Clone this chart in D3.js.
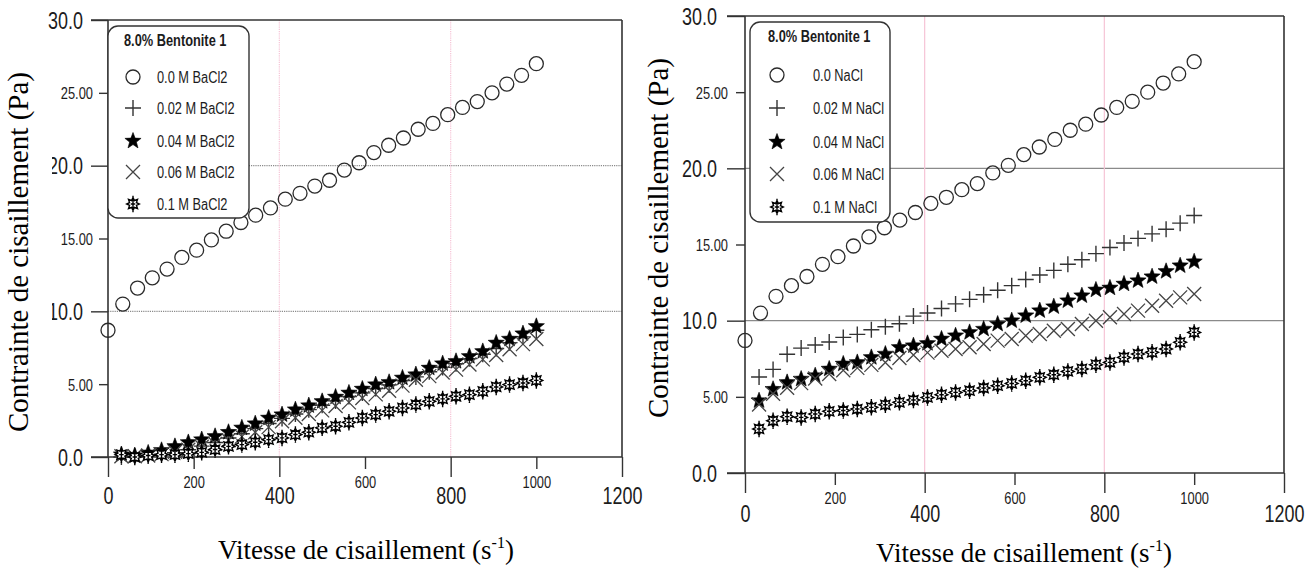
<!DOCTYPE html>
<html>
<head>
<meta charset="utf-8">
<script src="https://cdn.jsdelivr.net/npm/d3@7"></script>
<style>
  body { margin: 0; background: #fff; }
  svg { display: block; }
  .num { font-family: "Liberation Sans", Arial, sans-serif; fill: #1c1c1c; }
  .ttl { font-family: "Liberation Serif", "Times New Roman", serif; fill: #000; }
</style>
</head>
<body>
<svg id="fig" width="1316" height="572"></svg>
<script>
// shear rates (s-1): reference series has 30 steps, salt series 32 steps
var rateRef = [0, 34.5, 69, 103.4, 137.9, 172.4, 206.9, 241.4, 275.9, 310.3, 344.8, 379.3, 413.8, 448.3, 482.8,
  517.2, 551.7, 586.2, 620.7, 655.2, 689.7, 724.1, 758.6, 793.1, 827.6, 862.1, 896.6, 931, 965.5, 1000];
var rateSalt = [31.3, 62.5, 93.8, 125, 156.3, 187.5, 218.8, 250, 281.3, 312.5, 343.8, 375, 406.3, 437.5, 468.8, 500,
  531.3, 562.5, 593.8, 625, 656.3, 687.5, 718.8, 750, 781.3, 812.5, 843.8, 875, 906.3, 937.5, 968.8, 1000];

// shear stress (Pa), 8.0% bentonite without salt
var ref0 = [8.7, 10.5, 11.6, 12.3, 12.9, 13.7, 14.2, 14.9, 15.5, 16.1, 16.6, 17.1, 17.7, 18.1, 18.6, 19.0, 19.7,
  20.2, 20.9, 21.4, 21.9, 22.5, 22.9, 23.5, 24.0, 24.4, 25.0, 25.6, 26.2, 27.0];

// BaCl2
var ba002 = [0.0, 0.05, 0.1, 0.2, 0.3, 0.5, 0.75, 1.0, 1.3, 1.6, 1.95, 2.3, 2.65, 2.95, 3.25, 3.55, 3.85, 4.15,
  4.4, 4.7, 4.95, 5.25, 5.5, 5.85, 6.15, 6.4, 6.75, 7.05, 7.45, 7.85, 8.25, 8.7];
var ba004 = [0.16, 0.1, 0.28, 0.46, 0.73, 1.0, 1.2, 1.42, 1.7, 2.0, 2.29, 2.68, 2.91, 3.25, 3.53, 3.82, 4.12, 4.4,
  4.67, 4.97, 5.13, 5.43, 5.66, 6.11, 6.41, 6.57, 6.91, 7.25, 7.83, 8.1, 8.47, 8.97];
var ba006 = [0.05, 0.05, 0.1, 0.2, 0.35, 0.5, 0.7, 0.9, 1.15, 1.4, 1.7, 2.05, 2.45, 2.7, 2.95, 3.2, 3.5, 3.75,
  4.05, 4.3, 4.55, 4.9, 5.3, 5.55, 5.8, 6.0, 6.35, 6.7, 7.0, 7.4, 7.75, 8.1];
var ba01 = [0.16, 0.0, 0.1, 0.16, 0.16, 0.23, 0.32, 0.51, 0.73, 0.85, 1.01, 1.19, 1.31, 1.54, 1.7, 2.0, 2.11, 2.38,
  2.68, 2.91, 3.14, 3.37, 3.6, 3.82, 3.99, 4.17, 4.28, 4.51, 4.81, 4.97, 5.08, 5.26];

// NaCl
var na002 = [6.3, 6.8, 7.8, 8.2, 8.4, 8.6, 8.9, 9.1, 9.4, 9.6, 9.8, 10.3, 10.5, 10.8, 11.1, 11.4, 11.7, 12.0,
  12.3, 12.7, 13.0, 13.3, 13.7, 14.0, 14.4, 14.8, 15.1, 15.4, 15.7, 16.0, 16.4, 16.9];
var na004 = [4.75, 5.5, 5.95, 6.17, 6.39, 6.83, 7.16, 7.26, 7.59, 7.81, 8.25, 8.36, 8.51, 8.8, 9.01, 9.23, 9.45,
  9.78, 10.0, 10.33, 10.66, 10.92, 11.31, 11.64, 12.02, 12.15, 12.41, 12.63, 12.89, 13.24, 13.61, 13.87];
var na006 = [4.5, 5.2, 5.6, 5.9, 6.2, 6.5, 6.75, 6.9, 7.1, 7.25, 7.55, 7.75, 7.9, 8.03, 8.14, 8.25, 8.47, 8.69,
  8.8, 9.01, 9.13, 9.34, 9.45, 9.78, 10.0, 10.22, 10.44, 10.66, 10.98, 11.31, 11.53, 11.75];
var na01 = [2.89, 3.43, 3.7, 3.65, 3.87, 4.05, 4.1, 4.2, 4.31, 4.48, 4.64, 4.79, 4.96, 5.14, 5.29, 5.4, 5.58,
  5.73, 5.88, 6.06, 6.28, 6.45, 6.67, 6.83, 7.11, 7.26, 7.59, 7.81, 7.92, 8.14, 8.58, 9.23];

var legendTitle = "8.0% Bentonite 1";
var baLabels = ["0.0 M BaCl2", "0.02 M BaCl2", "0.04 M BaCl2", "0.06 M BaCl2", "0.1 M BaCl2"];
var naLabels = ["0.0 NaCl", "0.02 M NaCl", "0.04 M NaCl", "0.06 M NaCl", "0.1 M NaCl"];
var xMajor = [0, 400, 800, 1200], xMinor = [200, 600, 1000];
var yMajor = [0, 10, 20, 30], yMinor = [5, 15, 25];

var svg = d3.select("#fig");

// squeeze text horizontally, the figure uses a narrow face
function narrow(sel, f) {
  sel.each(function () {
    var w = this.getComputedTextLength();
    d3.select(this).attr("textLength", w * f).attr("lengthAdjust", "spacingAndGlyphs");
  });
}

// marker shapes, size = radius in px
var symRing = { draw: function (c, r) { c.moveTo(r, 0); c.arc(0, 0, r, 0, 2 * Math.PI); } };
var symPlus = { draw: function (c, r) { c.moveTo(-r, 0); c.lineTo(r, 0); c.moveTo(0, -r); c.lineTo(0, r); } };
var symTimes = { draw: function (c, r) { c.moveTo(-r, -r); c.lineTo(r, r); c.moveTo(r, -r); c.lineTo(-r, r); } };
var symStar = { draw: function (c, r) {
  for (var i = 0; i < 10; i++) {
    var a = -Math.PI / 2 + i * Math.PI / 5, rr = i % 2 ? r * 0.42 : r;
    if (i == 0) c.moveTo(rr * Math.cos(a), rr * Math.sin(a)); else c.lineTo(rr * Math.cos(a), rr * Math.sin(a));
  }
  c.closePath();
} };
var symBurst = { draw: function (c, r) {
  for (var i = 0; i < 16; i++) {
    var a = -Math.PI / 2 + i * Math.PI / 8, rr = i % 2 ? r * 0.5 : r * 0.85;
    if (i == 0) c.moveTo(rr * Math.cos(a), rr * Math.sin(a)); else c.lineTo(rr * Math.cos(a), rr * Math.sin(a));
  }
  c.closePath();
  c.moveTo(0, -r * 1.1); c.lineTo(0, r * 1.1);
  c.moveTo(-r * 0.3, 0); c.lineTo(r * 0.3, 0);
} };

var styles = [
  { type: symRing, r: 7, fill: "none", stroke: "#2a2a2a", sw: 1.3 },
  { type: symPlus, r: 8, fill: "none", stroke: "#333", sw: 1.4 },
  { type: symStar, r: 8.5, fill: "#000", stroke: "#000", sw: 0.6 },
  { type: symTimes, r: 7, fill: "none", stroke: "#444", sw: 1.3 },
  { type: symBurst, r: 7.5, fill: "#fff", stroke: "#000", sw: 1.4 }
];

function drawPanel(p) {
  var x = d3.scaleLinear().domain([0, 1200]).range([p.x0, p.x1]);
  var y = d3.scaleLinear().domain([0, 30]).range([p.yBot, p.yTop]);
  var g = svg.append("g");

  // grid
  g.selectAll(".hg").data([10, 20]).enter().append("line")
    .attr("x1", p.x0).attr("x2", p.x1).attr("y1", y).attr("y2", y)
    .attr("stroke", "#8a8a8a").attr("stroke-width", 1.4).attr("stroke-dasharray", p.dash);
  g.selectAll(".vg").data([400, 800]).enter().append("line")
    .attr("x1", x).attr("x2", x).attr("y1", p.yTop).attr("y2", p.yBot)
    .attr("stroke", "#f6c4d6").attr("stroke-width", 1.2).attr("stroke-dasharray", p.dash);

  // axes from d3
  var ax1 = g.append("g").attr("transform", "translate(0," + p.yBot + ")")
    .call(d3.axisBottom(x).tickValues(xMajor).tickSize(20).tickFormat(d3.format("d")));
  ax1.selectAll("text").attr("class", "num").attr("y", p.xBigY).attr("dy", 0).style("font-size", "23px");
  var ax2 = g.append("g").attr("transform", "translate(0," + p.yBot + ")")
    .call(d3.axisBottom(x).tickValues(xMinor).tickSize(12).tickFormat(d3.format("d")));
  ax2.selectAll("text").attr("class", "num").attr("y", p.xSmallY).attr("dy", 0).style("font-size", "16.5px");
  var ay1 = g.append("g").attr("transform", "translate(" + p.x0 + ",0)")
    .call(d3.axisLeft(y).tickValues(yMajor).tickSize(p.yTick).tickPadding(p.yPad).tickFormat(d3.format(".1f")));
  ay1.selectAll("text").attr("class", "num").attr("dy", "0.36em").style("font-size", "23px");
  var ay2 = g.append("g").attr("transform", "translate(" + p.x0 + ",0)")
    .call(d3.axisLeft(y).tickValues(yMinor).tickSize(9).tickPadding(p.yPad2).tickFormat(d3.format(".2f")));
  ay2.selectAll("text").attr("class", "num").attr("dy", "0.36em").style("font-size", "16.5px");
  g.selectAll(".domain").remove();
  g.selectAll(".tick line").attr("stroke", "#333").attr("stroke-width", 1.4);
  g.selectAll(".tick text").attr("font-family", null).call(narrow, 0.78);

  // frame
  var fr = [[p.x0 - p.yTick, p.yTop, p.x1, p.yTop], [p.x0 - p.yTick, p.yBot, p.x1, p.yBot],
    [p.x0, p.yTop, p.x0, p.yBot], [p.x1, p.yTop, p.x1, p.yBot]];
  g.selectAll(".fr").data(fr).enter().append("line")
    .attr("x1", function (d) { return d[0]; }).attr("y1", function (d) { return d[1]; })
    .attr("x2", function (d) { return d[2]; }).attr("y2", function (d) { return d[3]; })
    .attr("stroke", "#333").attr("stroke-width", 1.6);

  // points
  p.series.forEach(function (s, i) {
    var st = styles[i];
    var sym = d3.symbol().type(st.type).size(st.r);
    g.append("g").selectAll("path").data(s.v).enter().append("path")
      .attr("transform", function (d, k) { return "translate(" + x(s.rate[k]) + "," + y(d) + ")"; })
      .attr("d", sym).attr("fill", st.fill).attr("stroke", st.stroke).attr("stroke-width", st.sw);
  });

  // legend
  var L = p.leg;
  var lg = g.append("g");
  lg.append("rect").attr("x", L.x).attr("y", L.y).attr("width", L.w).attr("height", L.h)
    .attr("rx", 10).attr("fill", "#fff").attr("stroke", "#333").attr("stroke-width", 1.4);
  lg.append("text").attr("class", "num").attr("x", L.tx).attr("y", L.ty)
    .style("font-size", "16px").style("font-weight", "bold").text(legendTitle).call(narrow, 0.8);
  p.labels.forEach(function (t, i) {
    var st = styles[i], cy = L.rows[i];
    lg.append("path").attr("transform", "translate(" + L.sx + "," + cy + ")")
      .attr("d", d3.symbol().type(st.type).size(st.r)())
      .attr("fill", st.fill).attr("stroke", st.stroke).attr("stroke-width", st.sw);
    lg.append("text").attr("class", "num").attr("x", L.lx).attr("y", cy).attr("dy", "0.36em")
      .style("font-size", "16px").text(t).call(narrow, 0.8);
  });

  // white band of the y title hides part of the left tick labels
  if (p.mask) g.append("rect").attr("x", 0).attr("y", 60).attr("width", p.mask).attr("height", 370).attr("fill", "#fff");

  // titles
  var yt = g.append("g").attr("transform", "translate(" + p.ytX + "," + p.ytY + ") rotate(-90)");
  yt.append("text").attr("class", "ttl").attr("text-anchor", "middle").style("font-size", "29px")
    .text("Contrainte de cisaillement (Pa)");
  var xt = g.append("text").attr("class", "ttl").attr("x", p.xtX).attr("y", p.xtY)
    .attr("text-anchor", "middle").style("font-size", "27px");
  xt.append("tspan").text("Vitesse de cisaillement (s");
  xt.append("tspan").attr("dy", -11).style("font-size", "16px").text("-1");
  xt.append("tspan").attr("dy", 11).text(")");
}

drawPanel({
  x0: 108, x1: 622, yTop: 20, yBot: 457, dash: "1.2,1",
  yTick: 17, yPad: 8, yPad2: 6, xBigY: 47, xSmallY: 31, mask: 52,
  series: [{ rate: rateRef, v: ref0 }, { rate: rateSalt, v: ba002 }, { rate: rateSalt, v: ba004 },
    { rate: rateSalt, v: ba006 }, { rate: rateSalt, v: ba01 }],
  labels: baLabels,
  leg: { x: 108, y: 26, w: 141, h: 192, tx: 124, ty: 46, sx: 133, lx: 157, rows: [77, 108, 141, 172, 204] },
  ytX: 28, ytY: 252, xtX: 366, xtY: 559
});

drawPanel({
  x0: 745, x1: 1284, yTop: 16, yBot: 473, dash: null,
  yTick: 18, yPad: 10, yPad2: 8, xBigY: 49, xSmallY: 31, mask: 0,
  series: [{ rate: rateRef, v: ref0 }, { rate: rateSalt, v: na002 }, { rate: rateSalt, v: na004 },
    { rate: rateSalt, v: na006 }, { rate: rateSalt, v: na01 }],
  labels: naLabels,
  leg: { x: 750, y: 22, w: 140, h: 200, tx: 768, ty: 42, sx: 777, lx: 813, rows: [75, 108, 142, 174, 207] },
  ytX: 668, ytY: 238, xtX: 1024, xtY: 562
});
</script>
</body>
</html>
